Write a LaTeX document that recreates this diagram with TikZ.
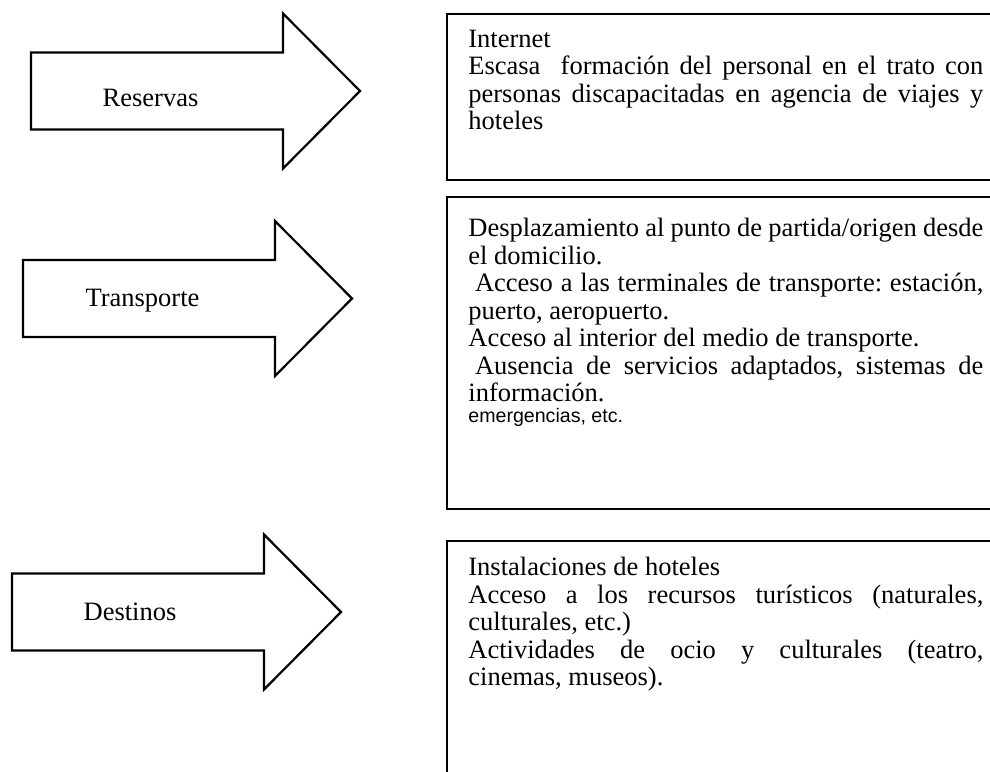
\documentclass[tikz,border=0pt]{standalone}
\usepackage{fontspec}
\setmainfont{Liberation Serif}
\newfontfamily\arialfont{Liberation Sans}
\newlength\anchotexto
\setlength\anchotexto{257.5pt}
\newcommand{\linea}[1]{\leavevmode\hbox to \anchotexto{\spaceskip=0pt\xspaceskip=0pt\relax #1}}
\begin{document}
\begin{tikzpicture}[line join=miter, x=0.5pt, y=-0.5pt]
        \tikzset{flecha/.style={draw, line width=1.1pt, fill=white},
                 caja/.style={draw, line width=0.8pt},
                 rotulo/.style={font=\fontsize{13.25}{13.75}\selectfont, inner sep=0pt, anchor=base},
                 texto/.style={font=\fontsize{13.25}{13.75}\selectfont\frenchspacing, inner sep=0pt, text width=\anchotexto, align=justify, anchor=north west}}
        \def \largo{252}
        \def \punta{77}
        \def \cuerpo{38.5}
        \def \ala{77.5}
        \useasboundingbox (0,0) rectangle (990,771);
        \clip (0,0) rectangle (990,771);
        \foreach \x/\y/\nombre/\texto/\tx/\ty in {31/91/reservas/Reservas/150.5/106, 23/298.5/transporte/Transporte/142.5/306, 12/612/destinos/Destinos/130/620}{
            \draw[flecha] (\x,\y-\cuerpo) -- (\x+\largo,\y-\cuerpo) -- (\x+\largo,\y-\ala) -- (\x+\largo+\punta,\y)
                -- (\x+\largo,\y+\ala) -- (\x+\largo,\y+\cuerpo) -- (\x,\y+\cuerpo) -- cycle;
            \node[rotulo] (\nombre) at (\tx,\ty) {\texto};
        }
        \draw[caja] (447,14) rectangle (1000,180);
        \draw[caja] (447,197) rectangle (1000,509);
        \draw[caja] (447,541) rectangle (1000,800);
        \node[texto] (internet) at (468,29.5) {Internet\\
            \linea{Escasa\ \ formación del personal en el trato con}\\
            \linea{personas discapacitadas en agencia de viajes y}\\
            hoteles};
        \node[texto] (desplazamiento) at (468,217.9) {\linea{Desplazamiento al punto de partida/origen desde}\\
            el domicilio.\\
            \linea{\hspace*{3.3pt}Acceso a las terminales de transporte: estación,}\\
            puerto, aeropuerto.\\
            Acceso al interior del medio de transporte.\\
            \linea{\hspace*{3.3pt}Ausencia de servicios adaptados, sistemas de}\\
            información.};
        \node[inner sep=0pt, anchor=base west, font=\arialfont\fontsize{9.8}{11}\selectfont] (emergencias) at (468,422) {emergencias, etc.};
        \node[texto] (instalaciones) at (468,556.9) {Instalaciones de hoteles\\
            \linea{Acceso a los recursos turísticos (naturales,}\\
            culturales, etc.)\\
            \linea{Actividades de ocio y culturales (teatro,}\\
            cinemas, museos).};
\end{tikzpicture}
\end{document}
